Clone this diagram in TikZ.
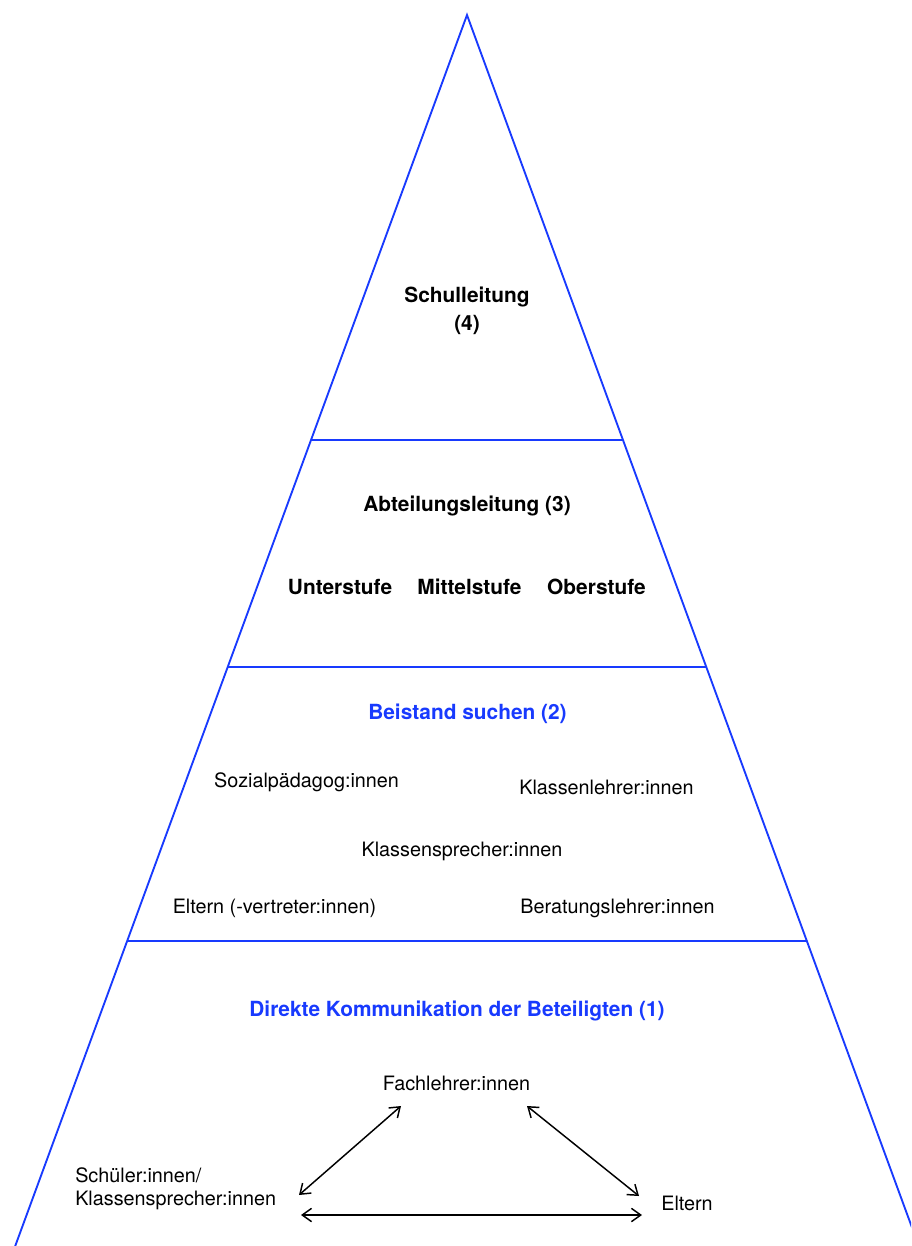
\documentclass[tikz,border=0pt]{standalone}
\usepackage{fontspec}
\setmainfont{TeX Gyre Heros}
\usetikzlibrary{arrows.meta}
\definecolor{pyrblue}{RGB}{24,58,254}
\tikzset{
  side/.style={draw=pyrblue, line width=1.4pt},
  lbl/.style={font=\fontsize{14.85}{17.25}\selectfont, inner sep=0pt},
  hd/.style={font=\fontsize{15.65}{21}\selectfont\bfseries, inner sep=0pt, align=center},
  bluehd/.style={hd, text=pyrblue},
  arr/.style={{Straight Barb[length=7pt,width=10pt]}-{Straight Barb[length=7pt,width=10pt]}, line width=1.1pt}
}
\begin{document}
\begin{tikzpicture}[x=0.75pt,y=-0.75pt]
\useasboundingbox (0,0) rectangle (911,1246);
\clip (0,0) rectangle (911,1246);
% pyramid
\coordinate (apex) at (467,15);
\coordinate (bl) at (-4.6,1300);
\coordinate (br) at (938.6,1300);
\coordinate (l1) at (311.0,440);
\coordinate (r1) at (623.0,440);
\coordinate (l2) at (227.7,667);
\coordinate (r2) at (706.3,667);
\coordinate (l3) at (127.2,941);
\coordinate (r3) at (806.8,941);
\draw[side, line join=miter] (bl) -- (apex) -- (br);
\draw[side] (l1) -- (r1);
\draw[side] (l2) -- (r2);
\draw[side] (l3) -- (r3);
% level 4
\node[hd] (schul) at (467,311) {Schulleitung\\(4)};
% level 3
\node[hd] (abt) at (467,506) {Abteilungsleitung (3)};
\node[hd] (unter) at (340,587) {Unterstufe};
\node[hd] (mittel) at (469.5,587) {Mittelstufe};
\node[hd] (ober) at (596.5,587) {Oberstufe};
% level 2
\node[bluehd] (beist) at (467.5,714) {Beistand suchen (2)};
\node[lbl] (sozial) at (306.5,782) {Sozialpädagog:innen};
\node[lbl] (klehrer) at (606.5,787) {Klassenlehrer:innen};
\node[lbl] (ksprech) at (462,851) {Klassensprecher:innen};
\node[lbl] (elternv) at (274.5,908) {Eltern (-vertreter:innen)};
\node[lbl] (berat) at (617.5,908) {Beratungslehrer:innen};
% level 1
\node[bluehd] (direkt) at (457,1011) {Direkte Kommunikation der Beteiligten (1)};
\node[lbl] (fach) at (456.5,1083) {Fachlehrer:innen};
\node[lbl, anchor=west, align=left] (schueler) at (75,1188.5) {Schüler:innen/\\Klassensprecher:innen};
\node[lbl] (eltern) at (687,1203) {Eltern};
% arrows
\coordinate (fl) at (401,1106);
\coordinate (sl) at (299,1195);
\coordinate (fr) at (527,1106);
\coordinate (er) at (639,1196);
\coordinate (hl) at (301,1215);
\coordinate (hr) at (642,1215);
\draw[arr] (fl) -- (sl);
\draw[arr] (fr) -- (er);
\draw[arr] (hl) -- (hr);
\end{tikzpicture}
\end{document}
